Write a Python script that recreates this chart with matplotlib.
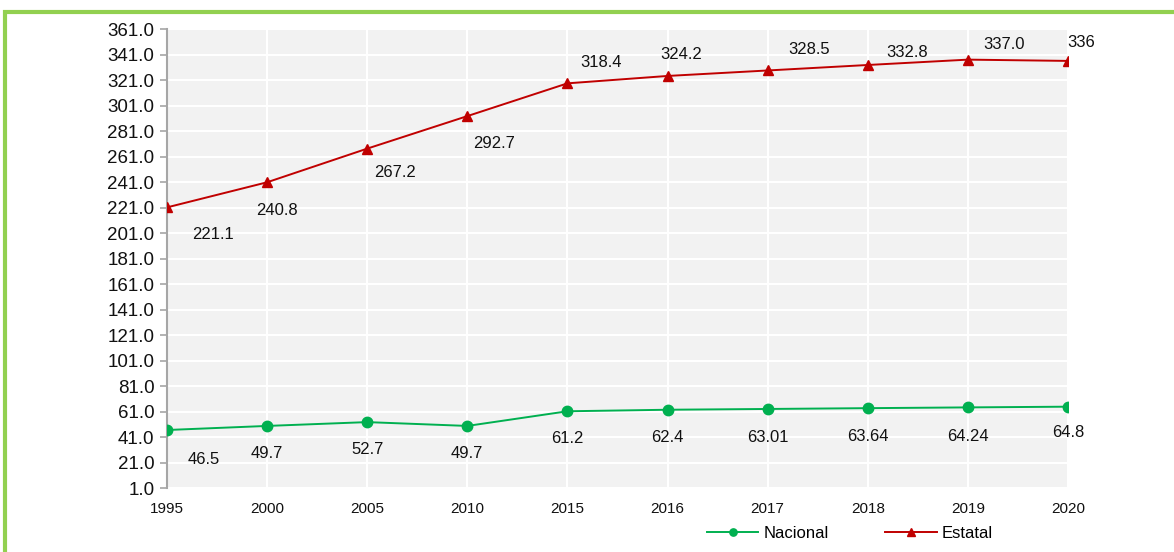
import matplotlib as mpl
mpl.use('Agg')
import matplotlib.pyplot as plt
import matplotlib.patches as patches
import numpy as np

plt.rcParams['font.family'] = ['Liberation Sans', 'DejaVu Sans']

years = ['1995', '2000', '2005', '2010', '2015', '2016', '2017', '2018', '2019', '2020']
nacional = [46.5, 49.7, 52.7, 49.7, 61.2, 62.4, 63.01, 63.64, 64.24, 64.8]
estatal = [221.1, 240.8, 267.2, 292.7, 318.4, 324.2, 328.5, 332.8, 337.0, 336]
nacional_labels = ['46.5', '49.7', '52.7', '49.7', '61.2', '62.4', '63.01', '63.64', '64.24', '64.8']
estatal_labels = ['221.1', '240.8', '267.2', '292.7', '318.4', '324.2', '328.5', '332.8', '337.0', '336']
y_ticks = np.arange(1, 362, 20)

# label offsets in pixels (dx, dy)
nac_off = [(37, -29), (0, -28), (0, -27), (0, -28), (0, -27), (0, -28), (0, -29), (0, -28), (0, -29), (0, -26)]
est_off = [(46, -27), (10, -28), (28, -24), (27, -27), (34, 21), (14, 21), (41, 21), (39, 12), (36, 15), (13, 18)]

green = '#00B050'
red = '#C00000'

fig = plt.figure(figsize=(11.74, 5.52), dpi=100)
ax = fig.add_axes([0.1422, 0.1159, 0.7675, 0.8315])

x = np.arange(len(years))
ax.plot(x, nacional, color=green, lw=1.4, marker='o', ms=7.5, label='Nacional', zorder=3)
ax.plot(x, estatal, color=red, lw=1.4, marker='^', ms=7.5, label='Estatal', zorder=3)

for i in range(len(x)):
    ax.annotate(nacional_labels[i], (x[i], nacional[i]), xytext=nac_off[i], textcoords='offset pixels',
                ha='center', va='center', fontsize=12, color='#111111')
    ax.annotate(estatal_labels[i], (x[i], estatal[i]), xytext=est_off[i], textcoords='offset pixels',
                ha='center', va='center', fontsize=12, color='#111111')

ax.set_facecolor('#F2F2F2')
ax.set_xlim(0, len(years) - 1)
ax.set_ylim(1, 361)
ax.set_xticks(x)
ax.set_xticklabels(years, fontsize=11)
ax.set_yticks(y_ticks)
ax.set_yticklabels(['%.1f' % v for v in y_ticks], fontsize=13.5)
ax.grid(True, color='white', lw=1.5)
ax.set_axisbelow(True)
for s in ['top', 'right', 'bottom']:
    ax.spines[s].set_visible(False)
ax.spines['left'].set_color('#A6A6A6')
ax.spines['left'].set_linewidth(1.5)
ax.tick_params(axis='y', colors='#A6A6A6', labelcolor='#111111', length=5, width=1.2, pad=4)
ax.tick_params(axis='x', length=0, pad=10, labelcolor='#111111')

fig.legend(loc='center', bbox_to_anchor=(0.724, 0.034), ncol=2, frameon=False, fontsize=12,
           handlelength=3.1, handletextpad=0.3, columnspacing=3.4, markerscale=0.7)

border = patches.Rectangle((5 / 1174, -0.05), 1.2, 1 - 12 / 552 + 0.05, transform=fig.transFigure,
                           fill=False, edgecolor='#92D050', lw=3, clip_on=False)
fig.patches.append(border)

plt.savefig('out.png', dpi=100)
